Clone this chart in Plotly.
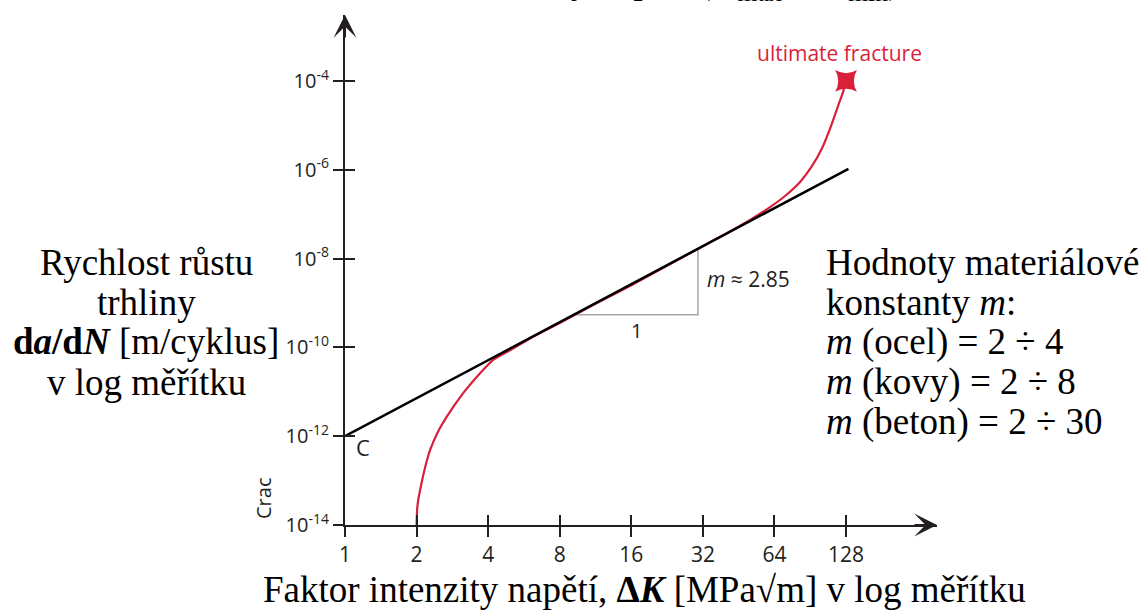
import math
import plotly.graph_objects as go

# ---------------- data ----------------
delta_k_ticks = [1, 2, 4, 8, 16, 32, 64, 128]
delta_k_tick_text = ["1", "2", "4", "8", "16", "32", "64", "128"]
rate_ticks = [1e-14, 1e-12, 1e-10, 1e-8, 1e-6, 1e-4]
rate_tick_text = ["10<sup>-14</sup>", "10<sup>-12</sup>", "10<sup>-10</sup>",
                  "10<sup>-8</sup>", "10<sup>-6</sup>", "10<sup>-4</sup>"]

# red crack-growth curve: dK and log10(da/dN)
curve_k = [2.0, 2.01, 2.03, 2.07, 2.15, 2.28, 2.45, 2.68, 3.14, 3.70, 4.20, 4.96,
           6.0, 8.0, 11.0, 16.0, 22.6, 32.0, 40.0, 50.5, 61.3, 70.9, 82.0, 92.1,
           101.5, 110.7, 118.5, 124.3, 128.0]
curve_log_rate = [-14.0, -13.66, -13.45, -13.21, -12.8, -12.31, -11.92, -11.56,
                  -11.03, -10.58, -10.28, -10.06, -9.80, -9.45, -9.05, -8.60,
                  -8.16, -7.72, -7.44, -7.13, -6.84, -6.59, -6.275, -5.914,
                  -5.51, -5.01, -4.56, -4.25, -4.0]
curve_rate = [10 ** v for v in curve_log_rate]

# Paris law straight line
paris_k = [1.0, 131.0]
paris_rate = [1e-12, 1.05e-6]

# slope triangle
tri_k = [9.1, 30.5, 30.5]
tri_rate = [5.4e-10, 5.4e-10, 1.7e-8]

# ultimate fracture point
fracture_k = [128.0]
fracture_rate = [1e-4]

# ---------------- layout helpers ----------------
W, H = 1145, 610
L, R, T, B = 345, 937, 15, 525
x_range = [0.0, 2.4896]
y_range = [-14.0, -2.514]


def px(x):
    return (x - L) / (R - L)


def py(y):
    return (B - y) / (B - T)


INK = "#231f20"
RED = "#d91f3a"
GREY = "#a6a6a6"
SANS = "Open Sans"
SERIF = "Liberation Serif"

fig = go.Figure()

fig.add_trace(go.Scatter(x=tri_k, y=tri_rate, mode="lines",
                         line=dict(color=GREY, width=1.5), hoverinfo="skip"))
fig.add_trace(go.Scatter(x=curve_k, y=curve_rate, mode="lines",
                         line=dict(color=RED, width=2.2, shape="spline", smoothing=0.6),
                         hoverinfo="skip"))
fig.add_trace(go.Scatter(x=paris_k, y=paris_rate, mode="lines",
                         line=dict(color="black", width=2.5), hoverinfo="skip"))
fig.add_trace(go.Scatter(x=fracture_k, y=fracture_rate, mode="markers",
                         marker=dict(symbol="star-diamond", angle=45, size=22,
                                     color=RED, line=dict(width=0)),
                         hoverinfo="skip"))
# invisible trace for the overlay axes (inner halves of the crossing ticks)
fig.add_trace(go.Scatter(x=[1], y=[1e-14], xaxis="x2", yaxis="y2", mode="markers",
                         marker=dict(opacity=0), hoverinfo="skip"))

axis_common = dict(showgrid=False, zeroline=False, type="log")

fig.update_layout(
    width=W, height=H,
    margin=dict(l=L, r=W - R, t=T, b=H - B),
    paper_bgcolor="white", plot_bgcolor="white",
    showlegend=False,
    xaxis=dict(**axis_common, range=x_range, tickvals=delta_k_ticks,
               ticktext=delta_k_tick_text, ticks="outside", ticklen=10,
               tickwidth=1.5, tickcolor=INK, showline=True, linewidth=2,
               linecolor=INK, tickfont=dict(family=SANS, size=21, color=INK)),
    yaxis=dict(**axis_common, range=y_range, tickvals=rate_ticks,
               ticktext=rate_tick_text, ticks="outside", ticklen=10,
               tickwidth=1.5, tickcolor=INK, showline=True, linewidth=2,
               linecolor=INK, tickfont=dict(family=SANS, size=20, color=INK)),
    xaxis2=dict(**axis_common, range=x_range, tickvals=delta_k_ticks,
                overlaying="x", anchor="y2", side="bottom", ticks="inside",
                ticklen=10, tickwidth=1.5, tickcolor=INK, showticklabels=False,
                showline=False),
    yaxis2=dict(**axis_common, range=y_range, tickvals=rate_ticks,
                overlaying="y", anchor="x2", side="left", ticks="inside",
                ticklen=10, tickwidth=1.5, tickcolor=INK, showticklabels=False,
                showline=False),
)

ann = []
# axis arrowheads
ann.append(dict(xref="paper", yref="paper", x=0, y=1, ax=0, ay=24, text="",
                showarrow=True, arrowhead=3, arrowsize=1.9, arrowwidth=2,
                arrowcolor=INK))
ann.append(dict(xref="paper", yref="paper", x=1, y=0, ax=-24, ay=0, text="",
                showarrow=True, arrowhead=3, arrowsize=1.9, arrowwidth=2,
                arrowcolor=INK))

SERIF_SIZE = 37
# left block
left_lines = ["Rychlost růstu", "trhliny",
              "<b>d<i>a</i>/d<i>N</i></b> [m/cyklus]", "v log měřítku"]
for i, t in enumerate(left_lines):
    ann.append(dict(xref="paper", yref="paper", x=px(146), y=py(262 + 40 * i),
                    xanchor="center", yanchor="middle", text=t, showarrow=False,
                    font=dict(family=SERIF, size=SERIF_SIZE, color="black")))
# right block
right_lines = ["Hodnoty materiálové", "konstanty <i>m</i>:",
               "<i>m</i> (ocel) = 2 ÷ 4", "<i>m</i> (kovy) = 2 ÷ 8",
               "<i>m</i> (beton) = 2 ÷ 30"]
for i, t in enumerate(right_lines):
    ann.append(dict(xref="paper", yref="paper", x=px(824), y=py(262 + 40 * i),
                    xanchor="left", yanchor="middle", text=t, showarrow=False,
                    font=dict(family=SERIF, size=SERIF_SIZE, color="black")))
# bottom title
ann.append(dict(xref="paper", yref="paper", x=px(261), y=py(589), xanchor="left",
                yanchor="middle", showarrow=False,
                text="Faktor intenzity napětí, <b>Δ<i>K</i></b> [MPa√m] v log měřítku",
                font=dict(family=SERIF, size=SERIF_SIZE, color="black")))
# cut-off text at the very top of the picture
ann.append(dict(xref="paper", yref="paper", x=px(903), y=py(9), xanchor="right",
                yanchor="bottom", showarrow=False,
                text="kmity napětí (K<sub>max</sub> − K<sub>min</sub>)",
                font=dict(family=SERIF, size=SERIF_SIZE, color="black")))
# truncated axis caption
ann.append(dict(xref="paper", yref="paper", x=px(263), y=py(499), xanchor="center",
                yanchor="middle", textangle=-90, text="Crac", showarrow=False,
                font=dict(family=SANS, size=20, color=INK)))
# in-plot labels (log axes -> log10 coordinates)
ann.append(dict(x=math.log10(1.19), y=math.log10(5.8e-13), text="C", showarrow=False,
                xanchor="center", yanchor="middle",
                font=dict(family=SANS, size=22, color=INK)))
ann.append(dict(x=math.log10(16.8), y=math.log10(2.45e-10), text="1", showarrow=False,
                xanchor="center", yanchor="middle",
                font=dict(family=SANS, size=20, color=INK)))
ann.append(dict(x=math.log10(32.6), y=math.log10(3.47e-9), text="<i>m</i> ≈ 2.85",
                showarrow=False, xanchor="left", yanchor="middle",
                font=dict(family=SANS, size=21, color=INK)))
ann.append(dict(x=math.log10(128), y=math.log10(4.3e-4), xshift=-7,
                text="ultimate fracture", showarrow=False, xanchor="center",
                yanchor="middle", font=dict(family=SANS, size=21, color=RED)))

fig.update_layout(annotations=ann)
fig.write_html("out.html",
               config={"displayModeBar": False},
               post_script="document.body.style.margin='0';"
                           "document.body.style.overflow='hidden';")
